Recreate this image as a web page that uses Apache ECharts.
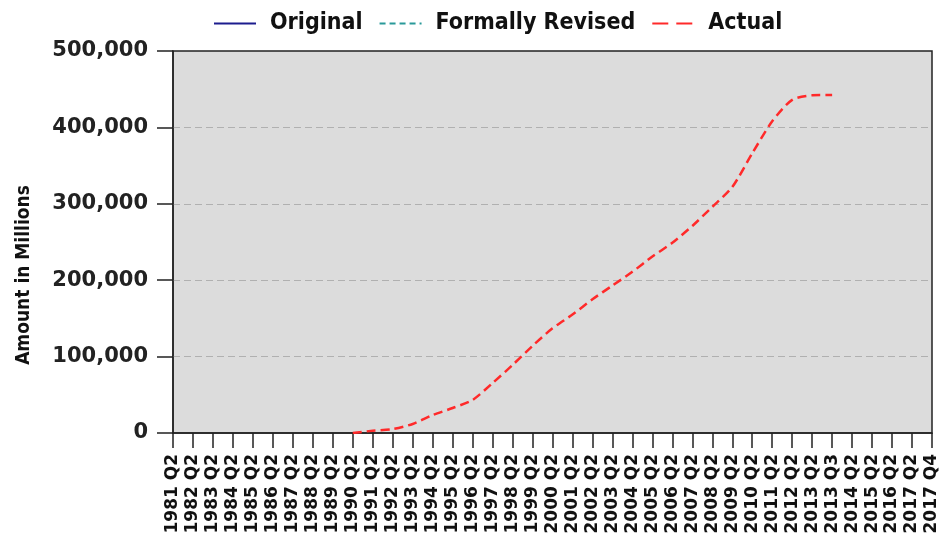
<!DOCTYPE html>
<html>
<head>
<meta charset="utf-8">
<script src="https://cdn.jsdelivr.net/npm/echarts@6/dist/echarts.min.js"></script>
<style>
    html, body {margin: 0; padding: 0; background: #fff;}
    #chart {width: 943px; height: 544px;}
</style>
</head>
<body>
<div id="chart"></div>
<script>
    // x axis categories (one tick each)
    const categories = [
        '1981 Q2', '1982 Q2', '1983 Q2', '1984 Q2', '1985 Q2', '1986 Q2', '1987 Q2', '1988 Q2',
        '1989 Q2', '1990 Q2', '1991 Q2', '1992 Q2', '1993 Q2', '1994 Q2', '1995 Q2', '1996 Q2',
        '1997 Q2', '1998 Q2', '1999 Q2', '2000 Q2', '2001 Q2', '2002 Q2', '2003 Q2', '2004 Q2',
        '2005 Q2', '2006 Q2', '2007 Q2', '2008 Q2', '2009 Q2', '2010 Q2', '2011 Q2', '2012 Q2',
        '2013 Q2', '2013 Q3', '2014 Q2', '2015 Q2', '2016 Q2', '2017 Q2', '2017 Q4'
    ];

    const original = [];
    const formallyRevised = [];
    const actual = [
        null, null, null, null, null, null, null, null, null,
        0, 3000, 5200, 11800, 23500, 32700, 43200, 65400, 89000, 114000,
        137000, 155000, 175000, 193000, 211000, 231000, 249000, 271000, 296000,
        322000, 366000, 408000, 436000, 442000, 442500,
        null, null, null, null, null
    ];

    const yTicks = [0, 100000, 200000, 300000, 400000, 500000];

    const font = 'DejaVu Sans';
    const narrow = "'DejaVu Sans Condensed', 'DejaVu Sans'";

    let chart = echarts.init(document.getElementById('chart'));

    let option = {
        animation: false,
        backgroundColor: '#ffffff',
        legend: {
            top: 7,
            left: 208,
            itemWidth: 42,
            itemHeight: 14,
            itemGap: 16,
            itemStyle: {opacity: 0},
            textStyle: {
                fontFamily: narrow,
                fontWeight: 'bold',
                fontSize: 23,
                color: '#111',
                padding: [0, 0, 0, 9]
            },
            data: [
                {name: 'Original'},
                {name: 'Formally Revised', lineStyle: {type: [6, 4]}},
                {name: 'Actual', lineStyle: {type: [16, 8]}}
            ]
        },
        grid: {
            left: 173,
            right: 11,
            top: 51,
            bottom: 111,
            show: true,
            backgroundColor: '#dcdcdc',
            borderColor: '#222',
            borderWidth: 1.5
        },
        xAxis: {
            type: 'category',
            boundaryGap: false,
            data: categories,
            axisLine: {lineStyle: {color: '#222', width: 1.5}},
            axisTick: {
                interval: 0,
                length: 15,
                lineStyle: {color: '#222', width: 1.5}
            },
            axisLabel: {
                interval: 0,
                rotate: 90,
                margin: 21,
                fontFamily: font,
                fontWeight: 'bold',
                fontSize: 17,
                color: '#111'
            },
            splitLine: {show: false}
        },
        yAxis: {
            type: 'value',
            min: yTicks[0],
            max: yTicks[yTicks.length - 1],
            interval: 100000,
            name: 'Amount in Millions',
            nameLocation: 'middle',
            nameRotate: 90,
            nameGap: 139,
            nameTextStyle: {
                fontFamily: narrow,
                fontWeight: 'bold',
                fontSize: 19,
                color: '#111',
                padding: [0, 66, 0, 0]
            },
            axisLine: {show: true, lineStyle: {color: '#222', width: 1.5}},
            axisTick: {show: true, length: 16, lineStyle: {color: '#222', width: 1.5}},
            axisLabel: {
                margin: 25,
                fontFamily: font,
                fontWeight: 'bold',
                fontSize: 21,
                color: '#222',
                formatter: (v) => v.toLocaleString('en-US')
            },
            splitLine: {
                showMinLine: false,
                showMaxLine: false,
                lineStyle: {color: '#b0b0b0', type: [7, 4], width: 1.2}
            }
        },
        series: [
            {
                name: 'Original',
                type: 'line',
                symbol: 'none',
                data: original,
                lineStyle: {color: '#1c1c8e', width: 2, type: 'solid'},
                itemStyle: {color: '#1c1c8e'}
            },
            {
                name: 'Formally Revised',
                type: 'line',
                symbol: 'none',
                data: formallyRevised,
                lineStyle: {color: '#2a9a9a', width: 2, type: [6, 4]},
                itemStyle: {color: '#2a9a9a'}
            },
            {
                name: 'Actual',
                type: 'line',
                symbol: 'none',
                smooth: 0.25,
                data: actual,
                lineStyle: {color: '#ff2a2a', width: 2.5, type: [9, 5]},
                itemStyle: {color: '#ff2a2a'}
            }
        ]
    };

    chart.setOption(option);
</script>
</body>
</html>
